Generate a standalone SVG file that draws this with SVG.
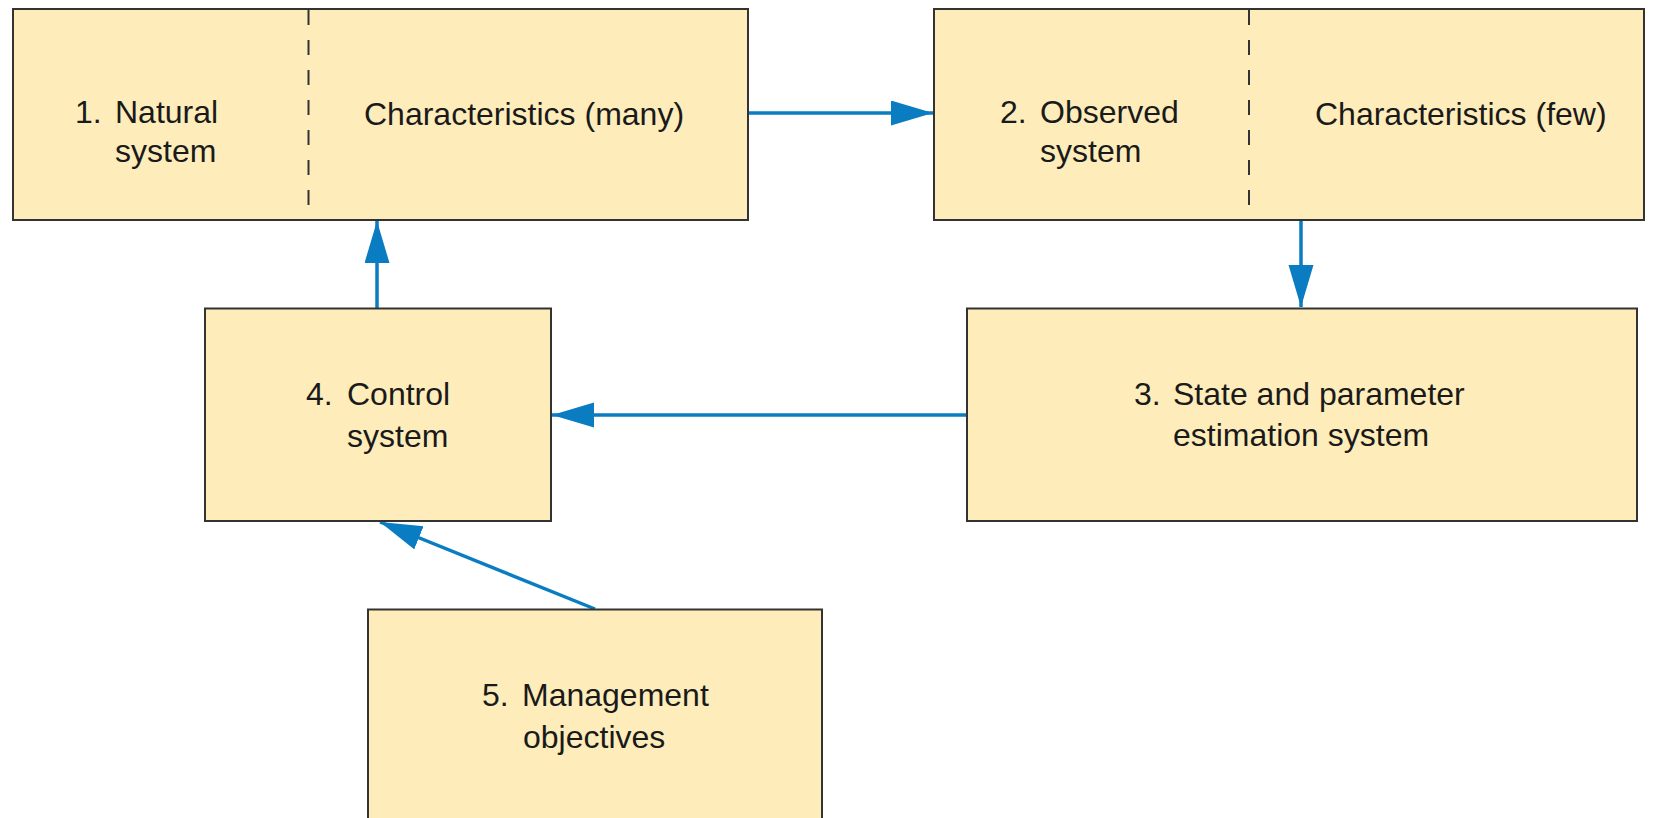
<svg xmlns="http://www.w3.org/2000/svg" width="1674" height="818" viewBox="0 0 1674 818">
<style>
.box{fill:#FEEDBB;stroke:#333;stroke-width:2}
.div{stroke:#333;stroke-width:2;stroke-dasharray:15 15;fill:none}
.t{font-family:"Liberation Sans",Arial,sans-serif;font-size:32px;fill:#1a1a1a}
.c{stroke:#0A7DC2;stroke-width:3.5;fill:none;marker-end:url(#ah)}
</style>
<defs>
<marker id="ah" markerUnits="userSpaceOnUse" markerWidth="44" markerHeight="26" refX="42" refY="12.5" orient="auto">
<path d="M0,0 L42,12.5 L0,25 Z" fill="#0A7DC2"/>
</marker>
</defs>
<rect width="1674" height="818" fill="#fff"/>
<g id="connectors">
<line class="c" x1="749" y1="113" x2="933" y2="113"/>
<line class="c" x1="1301" y1="221" x2="1301" y2="307"/>
<line class="c" x1="967" y1="415" x2="552" y2="415"/>
<line class="c" x1="377" y1="308" x2="377" y2="221"/>
<line class="c" x1="595" y1="609" x2="380" y2="522"/>
</g>
<g id="node1">
<rect class="box" x="13" y="9" width="735" height="211"/>
<line class="div" x1="308.5" y1="10" x2="308.5" y2="220"/>
<text class="t"><tspan x="75" y="123">1.</tspan><tspan x="115" y="123">Natural</tspan><tspan x="115" y="162">system</tspan></text>
<text class="t" x="364" y="125">Characteristics (many)</text>
</g>
<g id="node2">
<rect class="box" x="934" y="9" width="710" height="211"/>
<line class="div" x1="1249" y1="10" x2="1249" y2="220"/>
<text class="t"><tspan x="1000" y="123">2.</tspan><tspan x="1040" y="123">Observed</tspan><tspan x="1040" y="162">system</tspan></text>
<text class="t" x="1315" y="125">Characteristics (few)</text>
</g>
<g id="node3">
<rect class="box" x="967" y="308.5" width="670" height="212.5"/>
<text class="t"><tspan x="1134" y="405">3.</tspan><tspan x="1173" y="405">State and parameter</tspan><tspan x="1173" y="446">estimation system</tspan></text>
</g>
<g id="node4">
<rect class="box" x="205" y="308.5" width="346" height="212.5"/>
<text class="t"><tspan x="306" y="405">4.</tspan><tspan x="347" y="405">Control</tspan><tspan x="347" y="447">system</tspan></text>
</g>
<g id="node5">
<rect class="box" x="368" y="609.5" width="454" height="230"/>
<text class="t"><tspan x="482" y="706">5.</tspan><tspan x="522" y="706">Management</tspan><tspan x="523" y="748">objectives</tspan></text>
</g>
</svg>
